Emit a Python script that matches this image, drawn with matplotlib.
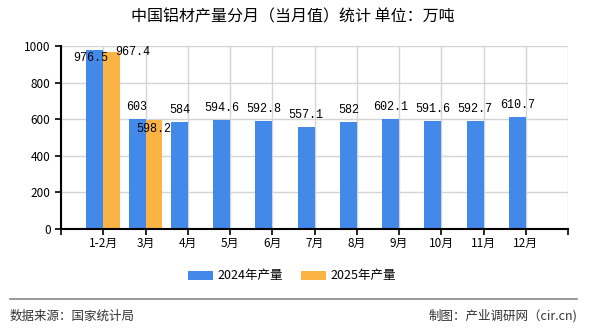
import matplotlib
matplotlib.use('Agg')
import matplotlib.pyplot as plt
from matplotlib.lines import Line2D
import numpy as np

plt.rcParams['font.family'] = ['Noto Sans CJK SC', 'DejaVu Sans']

# data
months = ['1-2月', '3月', '4月', '5月', '6月', '7月', '8月', '9月', '10月', '11月', '12月']
prod_2024 = [976.5, 603, 584, 594.6, 592.8, 557.1, 582, 602.1, 591.6, 592.7, 610.7]
prod_2025 = [967.4, 598.2]
yticks = [0, 200, 400, 600, 800, 1000]

BLUE = '#4289ea'
ORANGE = '#fbb443'

# label nudges (pixels) where the original chart moved labels around
off_2024 = {0: (-4, -8)}
off_2025 = {0: (21, 0), 1: (0, -9)}

fig = plt.figure(figsize=(5.9, 3.3), dpi=100)
ax = fig.add_axes([61/590, 1-229/330, (568-61)/590, (229-46)/330])

x = np.arange(len(months))
w = 0.4
b1 = ax.bar(x - w/2, prod_2024, w, color=BLUE, label='2024年产量', zorder=3)
x2 = np.arange(len(prod_2025))
b2 = ax.bar(x2 + w/2, prod_2025, w, color=ORANGE, label='2025年产量', zorder=3)

def fmt(v):
    return ('%.1f' % v).rstrip('0').rstrip('.')

for i, (bar, v) in enumerate(zip(b1, prod_2024)):
    dx, dy = off_2024.get(i, (0, 12))
    ax.annotate(fmt(v), (bar.get_x() + bar.get_width()/2, v), xytext=(dx, dy),
                textcoords='offset pixels', ha='center', va='center',
                fontsize=8.5, family='Liberation Mono', zorder=5)
for i, (bar, v) in enumerate(zip(b2, prod_2025)):
    dx, dy = off_2025.get(i, (0, 12))
    ax.annotate(fmt(v), (bar.get_x() + bar.get_width()/2, v), xytext=(dx, dy),
                textcoords='offset pixels', ha='center', va='center',
                fontsize=8.5, family='Liberation Mono', zorder=5)

ax.set_xlim(-1, 11)
ax.set_ylim(0, 1000)
ax.set_yticks(yticks)
ax.set_xticks(np.arange(-1, 12))
ax.set_xticklabels([''] + months + [''])
ax.tick_params(axis='both', labelsize=8.5, length=4, width=1.2, direction='out', color='black')
ax.tick_params(axis='x', pad=2)
ax.grid(True, color='#d4d4d4', linewidth=1, zorder=0)
for s in ['top', 'right']:
    ax.spines[s].set_visible(False)
for s in ['left', 'bottom']:
    ax.spines[s].set_linewidth(1.5)
    ax.spines[s].set_zorder(4)

fig.text(0.497, 1-17/330, '中国铝材产量分月（当月值）统计 单位：万吨', ha='center', va='center', fontsize=11.5)

fig.legend(handles=[b1, b2], loc='center', bbox_to_anchor=(0.495, 1-276/330), ncol=2,
           frameon=False, fontsize=9, handlelength=2.0, handleheight=0.7,
           handletextpad=0.3, columnspacing=1.5)

fig.add_artist(Line2D([10/590, 577/590], [1-298.5/330]*2, color='#888888', linewidth=1.2))
fig.text(10/590, 1-316/330, '数据来源：国家统计局', ha='left', va='center', fontsize=9, color='#333333')
fig.text(577/590, 1-316/330, '制图：产业调研网（cir.cn)', ha='right', va='center', fontsize=9, color='#333333')

fig.savefig('out.png', dpi=100, facecolor='white')
